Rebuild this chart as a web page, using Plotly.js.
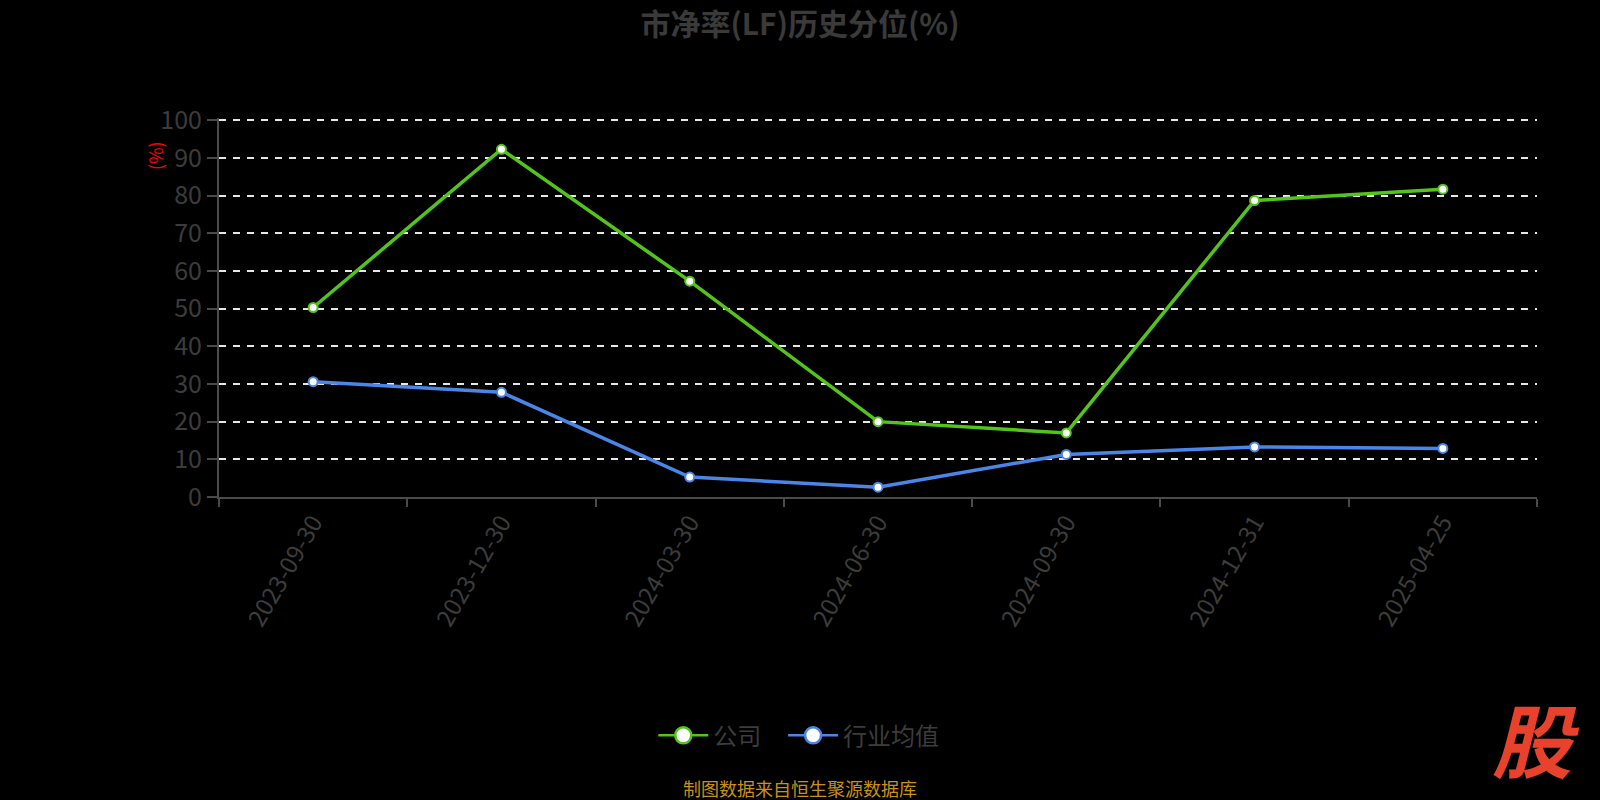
<!DOCTYPE html>
<html>
<head>
<meta charset="utf-8">
<script src="https://cdn.plot.ly/plotly-3.0.1.min.js"></script>
<style>html,body{margin:0;padding:0;background:#000;}#chart{width:1600px;height:800px;}</style>
</head>
<body>
<div id="chart"></div>
<script>
const dates = ['2023-09-30','2023-12-30','2024-03-30','2024-06-30','2024-09-30','2024-12-31','2025-04-25'];
const companyPct = [50.3, 92.3, 57.3, 20.0, 17.0, 78.7, 81.7];
const industryPct = [30.6, 27.8, 5.3, 2.6, 11.3, 13.3, 12.9];
const seriesNames = ['公司', '行业均值'];
const yTicks = [0,10,20,30,40,50,60,70,80,90,100];

const green = '#52c41a';
const blue = '#4a86e8';
const font = '"Noto Sans CJK SC", "Noto Sans", sans-serif';

const traces = [
  {x: dates, y: companyPct, type: 'scatter', mode: 'lines+markers', name: seriesNames[0], showlegend: false,
   line: {color: green, width: 3.5}, marker: {color: '#fff', size: 9, line: {color: green, width: 2}}},
  {x: dates, y: industryPct, type: 'scatter', mode: 'lines+markers', name: seriesNames[1], showlegend: false,
   line: {color: blue, width: 3.5}, marker: {color: '#fff', size: 9, line: {color: blue, width: 2}}},
  {x: [null], y: [null], type: 'scatter', mode: 'lines+markers', name: seriesNames[0], legend: 'legend',
   line: {color: green, width: 2.5}, marker: {color: '#fff', size: 16, line: {color: green, width: 2.5}}},
  {x: [null], y: [null], type: 'scatter', mode: 'lines+markers', name: seriesNames[1], legend: 'legend2',
   line: {color: blue, width: 2.5}, marker: {color: '#fff', size: 16, line: {color: blue, width: 2.5}}}
];

const legendStyle = {orientation: 'h', xanchor: 'left', y: -0.63, yanchor: 'middle',
  font: {family: font, size: 24, color: '#3c3c3c'}, itemwidth: 50, bgcolor: 'rgba(0,0,0,0)'};

const layout = {
  width: 1600, height: 800,
  paper_bgcolor: '#000', plot_bgcolor: '#000',
  margin: {l: 219, r: 63, t: 118, b: 303},
  font: {family: font, color: '#3c3c3c'},
  title: {text: '<b>市净率(LF)历史分位(%)</b>', x: 0.5, xref: 'container', y: 0.97, yref: 'container',
          xanchor: 'center', yanchor: 'middle',
          font: {family: font, size: 30, color: '#3a3a3a'}},
  xaxis: {
    type: 'category', categoryorder: 'array', categoryarray: dates,
    range: [-0.5, dates.length - 0.5],
    tickson: 'boundaries', ticks: 'outside', ticklen: 8, tickwidth: 2, tickcolor: '#4a4a4a',
    showline: true, linecolor: '#4a4a4a', linewidth: 2,
    showgrid: false, zeroline: false,
    tickangle: -60, tickfont: {family: font, size: 24, color: '#3c3c3c'}
  },
  yaxis: {
    range: [0, 100.6], tickvals: yTicks, ticktext: yTicks.map(String),
    ticks: 'outside', ticklen: 10, tickwidth: 2, tickcolor: '#4a4a4a',
    showline: true, linecolor: '#4a4a4a', linewidth: 2,
    showgrid: true, gridcolor: '#e6e6e6', griddash: '7px,7px', gridwidth: 2,
    zeroline: false,
    tickfont: {family: font, size: 25, color: '#3c3c3c'}
  },
  legend: Object.assign({}, legendStyle, {x: 0.3295}),
  legend2: Object.assign({}, legendStyle, {x: 0.428}),
  annotations: [
    {text: '(%)', xref: 'paper', yref: 'paper', x: -0.0486, y: 0.902, showarrow: false, textangle: -90,
     xanchor: 'center', yanchor: 'middle',
     font: {family: font, size: 18, color: '#ff0000'}},
    {text: '制图数据来自恒生聚源数据库', xref: 'paper', yref: 'paper', x: 0.441, y: -0.767, showarrow: false,
     xanchor: 'center', yanchor: 'middle', font: {family: font, size: 18, color: '#c8901c'}},
    {text: '<b><i>股</i></b>', xref: 'paper', yref: 'paper', x: 0.999, y: -0.634, showarrow: false,
     xanchor: 'center', yanchor: 'middle', font: {family: font, size: 80, color: '#e8412c'}}
  ]
};

Plotly.newPlot('chart', traces, layout, {displayModeBar: false, staticPlot: true});
</script>
</body>
</html>
